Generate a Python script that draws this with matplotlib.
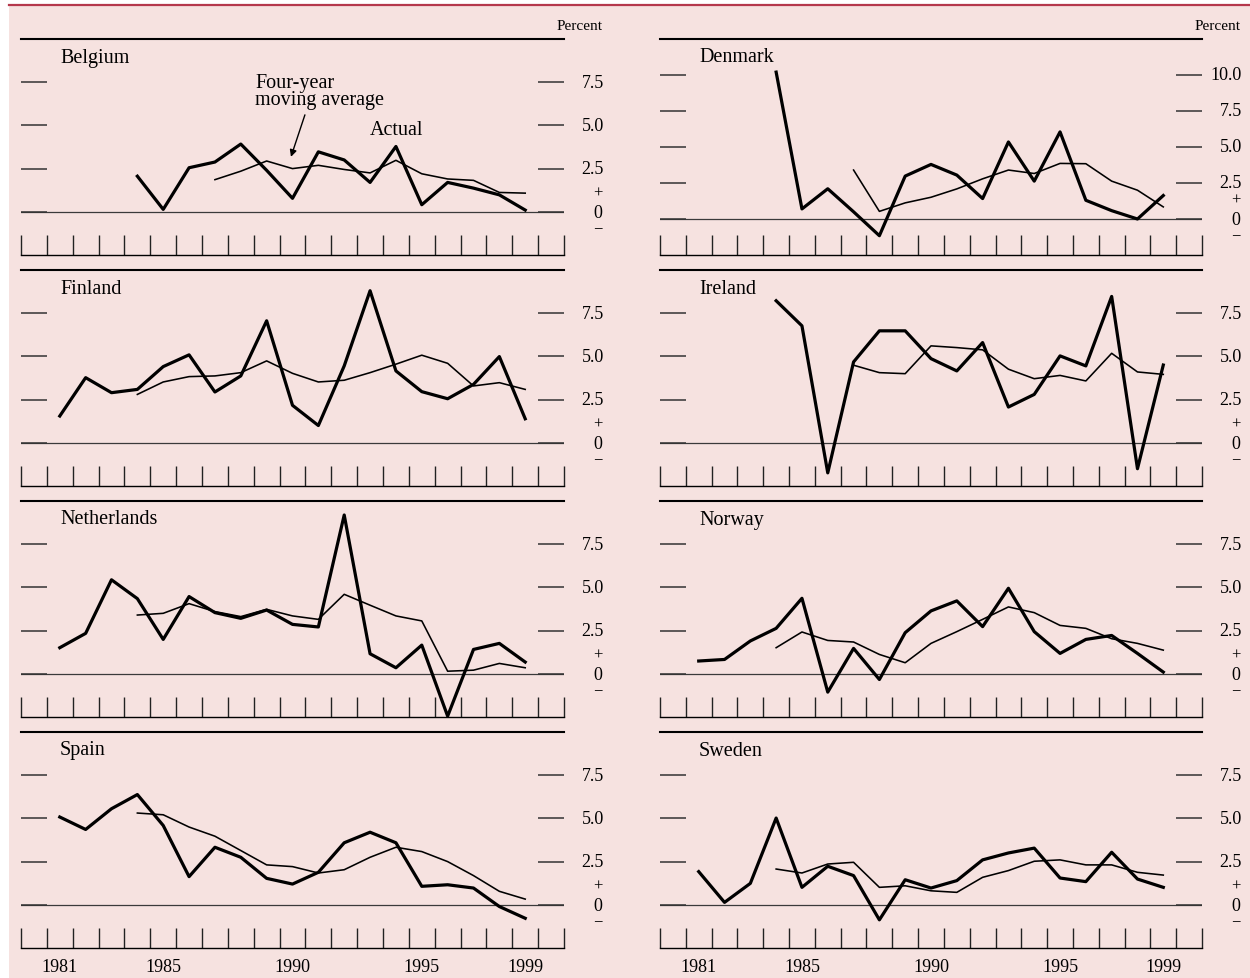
import numpy as np
import matplotlib
matplotlib.use('Agg')
import matplotlib.pyplot as plt
from matplotlib.lines import Line2D
from matplotlib.patches import Rectangle

plt.rcParams['font.family'] = ['Liberation Serif', 'DejaVu Serif']

# actual series start 1981 or 1984, four-year averages start three years later
belgium_actual = [2.06, 0.14, 2.55, 2.88, 3.92, 2.4, 0.78, 3.47, 3.0, 1.7, 3.78, 0.41, 1.7, 1.37, 0.98, 0.1]
belgium_ma = [1.86, 2.35, 2.94, 2.5, 2.69, 2.45, 2.25, 2.98, 2.2, 1.9, 1.82, 1.12, 1.08]

denmark_actual = [10.2, 0.7, 2.1, 0.5, -1.16, 2.98, 3.79, 3.05, 1.42, 5.35, 2.63, 6.05, 1.3, 0.58, 0.0, 1.63]
denmark_ma = [3.4, 0.53, 1.12, 1.51, 2.09, 2.79, 3.4, 3.16, 3.86, 3.84, 2.63, 2.0, 0.84]

finland_actual = [1.55, 3.77, 2.9, 3.09, 4.41, 5.09, 2.94, 3.87, 7.06, 2.17, 1.0, 4.45, 8.8, 4.16, 2.96, 2.55, 3.38, 4.99, 1.39]
finland_ma = [2.8, 3.52, 3.83, 3.87, 4.06, 4.74, 4.02, 3.52, 3.62, 4.06, 4.55, 5.07, 4.6, 3.29, 3.48, 3.09]

ireland_actual = [8.22, 6.77, -1.74, 4.68, 6.48, 6.48, 4.87, 4.16, 5.8, 2.07, 2.8, 5.03, 4.45, 8.47, -1.5, 4.5]
ireland_ma = [4.49, 4.06, 4.0, 5.61, 5.51, 5.38, 4.26, 3.71, 3.9, 3.58, 5.18, 4.1, 3.96]

netherlands_actual = [1.51, 2.34, 5.44, 4.35, 1.99, 4.47, 3.54, 3.21, 3.69, 2.86, 2.71, 9.19, 1.16, 0.35, 1.66, -2.45, 1.41, 1.76, 0.68]
netherlands_ma = [3.4, 3.5, 4.06, 3.6, 3.31, 3.73, 3.35, 3.15, 4.6, 3.97, 3.35, 3.06, 0.15, 0.21, 0.6, 0.35]

norway_actual = [0.74, 0.83, 1.9, 2.63, 4.37, -1.06, 1.47, -0.33, 2.38, 3.64, 4.22, 2.73, 4.95, 2.44, 1.18, 1.99, 2.22, 1.18, 0.1]
norway_ma = [1.51, 2.42, 1.93, 1.84, 1.12, 0.64, 1.76, 2.44, 3.15, 3.87, 3.54, 2.8, 2.63, 2.03, 1.76, 1.37]

spain_actual = [5.08, 4.36, 5.56, 6.38, 4.59, 1.63, 3.33, 2.75, 1.53, 1.2, 1.88, 3.59, 4.2, 3.59, 1.07, 1.16, 0.97, -0.1, -0.78]
spain_ma = [5.31, 5.21, 4.5, 3.97, 3.14, 2.31, 2.21, 1.84, 2.03, 2.75, 3.33, 3.08, 2.5, 1.69, 0.78, 0.33]

sweden_actual = [1.92, 0.14, 1.24, 5.02, 1.01, 2.23, 1.69, -0.87, 1.45, 0.97, 1.4, 2.6, 3.0, 3.28, 1.55, 1.34, 3.04, 1.49, 1.01]
sweden_ma = [2.07, 1.84, 2.36, 2.46, 1.01, 1.1, 0.81, 0.72, 1.59, 1.98, 2.52, 2.6, 2.31, 2.31, 1.88, 1.72]

panels = [
    ('Belgium', belgium_actual, belgium_ma, 10.0),
    ('Denmark', denmark_actual, denmark_ma, 12.5),
    ('Finland', finland_actual, finland_ma, 10.0),
    ('Ireland', ireland_actual, ireland_ma, 10.0),
    ('Netherlands', netherlands_actual, netherlands_ma, 10.0),
    ('Norway', norway_actual, norway_ma, 10.0),
    ('Spain', spain_actual, spain_ma, 10.0),
    ('Sweden', sweden_actual, sweden_ma, 10.0),
]
year_labels = [1981, 1985, 1990, 1995, 1999]

W, H = 1250, 979
fig = plt.figure(figsize=(W / 100, H / 100), dpi=100, facecolor='white')

# pink page and red rule
fig.patches.append(Rectangle((9 / W, 0), 1 - 9 / W, 1 - 7 / H, transform=fig.transFigure,
                             facecolor='#f6e2e0', edgecolor='none', zorder=-10))
fig.lines.append(Line2D([9 / W, 1], [1 - 6 / H, 1 - 6 / H], transform=fig.transFigure,
                        color='#b5384c', lw=1.6, zorder=-5))

col_x = [(21, 543), (660, 542)]
row_top = [40, 271, 502, 733]
row_h = 216

PX = 0.72  # points per pixel

for i, (name, actual, ma, ytop) in enumerate(panels):
    r, c = divmod(i, 2)
    x0, w = col_x[c]
    ax = fig.add_axes([x0 / W, 1 - (row_top[r] + row_h) / H, w / W, row_h / H])
    ax.patch.set_visible(False)

    n = len(actual)
    yrs_a = np.arange(2000 - n, 2000)
    yrs_m = np.arange(2000 - len(ma), 2000)

    ax.axhline(0, color='#3a3a3a', lw=0.9, zorder=1)
    ax.plot(yrs_m, ma, color='black', lw=1.15, zorder=3)
    ax.plot(yrs_a, actual, color='black', lw=2.3, zorder=4)

    ax.set_xlim(1979.5, 2000.5)
    ax.set_ylim(-2.5, ytop)

    for s in ['left', 'right']:
        ax.spines[s].set_visible(False)
    ax.spines['top'].set_linewidth(1.5)
    ax.spines['bottom'].set_linewidth(1.0)

    ax.set_xticks(np.arange(1979.5, 2001, 1.0))
    ax.set_xticklabels([])
    ax.tick_params(axis='x', which='major', direction='in', length=20 * PX, width=1.0,
                   color='#222222', top=False)
    if r == 3:
        ax.set_xticks(year_labels, minor=True)
        ax.set_xticklabels([str(y) for y in year_labels], minor=True)
        ax.tick_params(axis='x', which='minor', length=0, pad=10 * PX, labelsize=13)

    yt = list(np.arange(0, ytop - 1.0, 2.5))
    ax.set_yticks(yt)
    ax.set_yticklabels([])
    ax.tick_params(axis='y', direction='in', left=True, right=True, length=26 * PX,
                   width=1.1, color='#333333')

    ytrans = ax.get_yaxis_transform()
    for v in yt[1:]:
        ax.annotate('%.1f' % v, xy=(1, v), xycoords=ytrans, xytext=(40 * PX, 0),
                    textcoords='offset points', ha='right', va='center', fontsize=13)
    ax.annotate('+', xy=(1, 0), xycoords=ytrans, xytext=(34 * PX, 19 * PX),
                textcoords='offset points', ha='center', va='center', fontsize=12)
    ax.annotate('0', xy=(1, 0), xycoords=ytrans, xytext=(34 * PX, -1 * PX),
                textcoords='offset points', ha='center', va='center', fontsize=13)
    ax.annotate('\u2212', xy=(1, 0), xycoords=ytrans, xytext=(34 * PX, -16 * PX),
                textcoords='offset points', ha='center', va='center', fontsize=12)

    ax.annotate(name, xy=(0, 1), xycoords='axes fraction', xytext=(39 * PX, -18 * PX),
                textcoords='offset points', ha='left', va='center', fontsize=14.5)

    if r == 0:
        ax.annotate('Percent', xy=(1, 1), xycoords='axes fraction', xytext=(39 * PX, 13 * PX),
                    textcoords='offset points', ha='right', va='center', fontsize=11)

    if name == 'Belgium':
        ax.text(1988.55, 8.05, 'Four-year\nmoving average', ha='left', va='top',
                fontsize=14.5, linespacing=0.85)
        ax.annotate('', xy=(1989.94, 3.18), xytext=(1990.48, 5.61),
                    arrowprops=dict(arrowstyle='-|>', lw=1.0, color='black',
                                    mutation_scale=10, shrinkA=0, shrinkB=0))
        ax.text(1994.04, 4.75, 'Actual', ha='center', va='center', fontsize=14.5)

fig.savefig('out.png', dpi=100, facecolor=fig.get_facecolor())
